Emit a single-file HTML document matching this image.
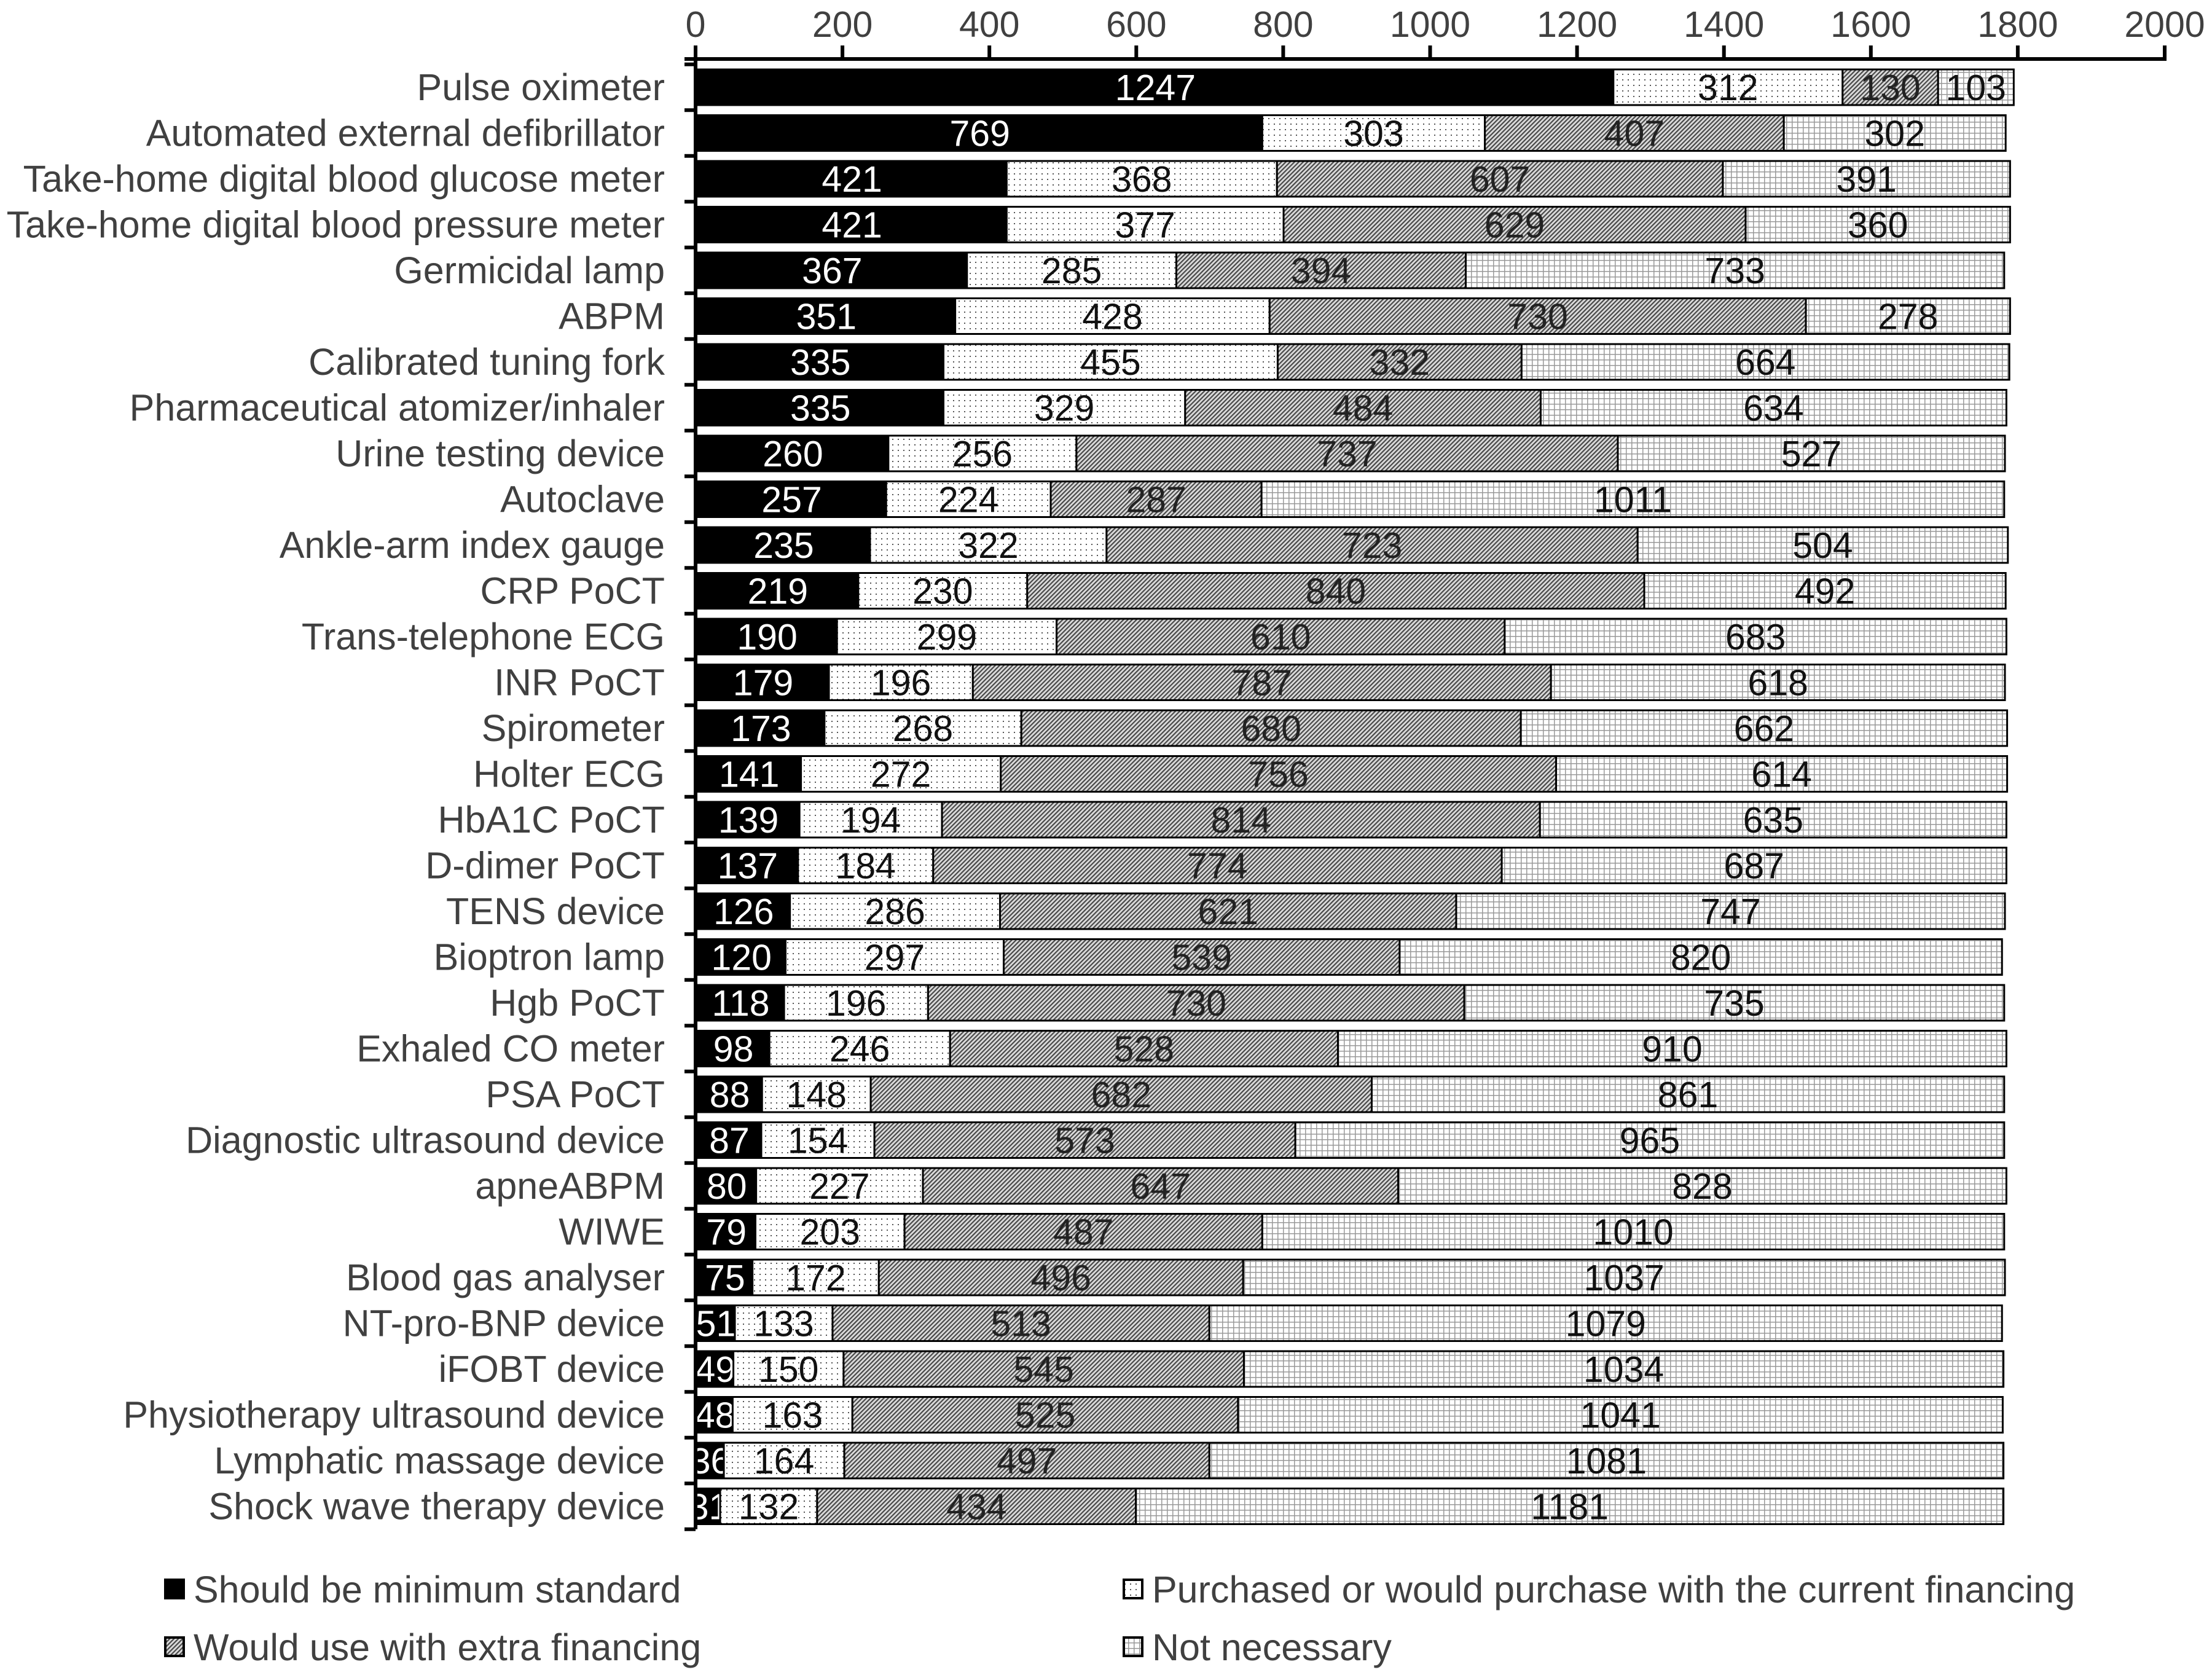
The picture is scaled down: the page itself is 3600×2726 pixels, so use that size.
<!DOCTYPE html>
<html><head><meta charset="utf-8"><style>
html,body{margin:0;padding:0;background:#fff}
svg{display:block}
text{font-family:"Liberation Sans",Arial,sans-serif}
</style></head><body>
<svg id="chart" xmlns="http://www.w3.org/2000/svg" width="3600" height="2726" viewBox="0 0 3600 2726">
<defs>
<pattern id="pDots" patternUnits="userSpaceOnUse" width="9" height="9"><rect width="9" height="9" fill="#fff"/><rect x="3" y="3" width="2" height="2" fill="#555"/></pattern>
<pattern id="pHatch" patternUnits="userSpaceOnUse" width="5" height="5" patternTransform="rotate(45)"><rect width="5" height="5" fill="#dcdcdc"/><rect x="0" y="0" width="2.2" height="5" fill="#484848"/></pattern>
<pattern id="pGrid" patternUnits="userSpaceOnUse" width="9" height="9"><rect width="9" height="9" fill="#fff"/><rect x="0" y="0" width="9" height="1.5" fill="#999"/><rect x="0" y="0" width="1.5" height="9" fill="#999"/></pattern>
</defs>
<g id="plot"></g>
</svg>
<script>
const categories = ["Pulse oximeter","Automated external defibrillator","Take-home digital blood glucose meter","Take-home digital blood pressure meter","Germicidal lamp","ABPM","Calibrated tuning fork","Pharmaceutical atomizer/inhaler","Urine testing device","Autoclave","Ankle-arm index gauge","CRP PoCT","Trans-telephone ECG","INR PoCT","Spirometer","Holter ECG","HbA1C PoCT","D-dimer PoCT","TENS device","Bioptron lamp","Hgb PoCT","Exhaled CO meter","PSA PoCT","Diagnostic ultrasound device","apneABPM","WIWE","Blood gas analyser","NT-pro-BNP device","iFOBT device","Physiotherapy ultrasound device","Lymphatic massage device","Shock wave therapy device"];
const minimumStandard = [1247,769,421,421,367,351,335,335,260,257,235,219,190,179,173,141,139,137,126,120,118,98,88,87,80,79,75,51,49,48,36,31];
const purchased = [312,303,368,377,285,428,455,329,256,224,322,230,299,196,268,272,194,184,286,297,196,246,148,154,227,203,172,133,150,163,164,132];
const extraFinancing = [130,407,607,629,394,730,332,484,737,287,723,840,610,787,680,756,814,774,621,539,730,528,682,573,647,487,496,513,545,525,497,434];
const notNecessary = [103,302,391,360,733,278,664,634,527,1011,504,492,683,618,662,614,635,687,747,820,735,910,861,965,828,1010,1037,1079,1034,1041,1081,1181];
const xTicks = [0,200,400,600,800,1000,1200,1400,1600,1800,2000];
const seriesNames = ["Should be minimum standard","Purchased or would purchase with the current financing","Would use with extra financing","Not necessary"];

const NS="http://www.w3.org/2000/svg";
const g=document.getElementById('plot');
const X0=1132, PXU=1.1955, Y0=142, PITCH=74.5, BH=58, AXY=96;
function xs(v){return X0+v*PXU;}
function yc(i){return Y0+i*PITCH;}
function mk(tag,attrs){const e=document.createElementNS(NS,tag);for(const k in attrs)e.setAttribute(k,attrs[k]);g.appendChild(e);return e;}
const fills=["#000","url(#pDots)","url(#pHatch)","url(#pGrid)"];
const tcol=["#fff","#111","#222","#111"];
const series=[minimumStandard,purchased,extraFinancing,notNecessary];
const segNames=["segment-minimum-standard","segment-purchased","segment-extra-financing","segment-not-necessary"];

categories.forEach((c,i)=>{
  let acc=0;
  const lab=mk('text',{x:1082,y:yc(i)+21,'text-anchor':'end','font-size':61,fill:'#404040'});
  lab.textContent=c;
  
  
  series.forEach((s,k)=>{
    const v=s[i];
    const r=mk('rect',{x:xs(acc)+3,y:yc(i)-BH/2,width:v*PXU,height:BH,fill:fills[k],stroke:'#000','stroke-width':3});
    
    
    const t=mk('text',{x:xs(acc+v/2)+3,y:yc(i)+21,'text-anchor':'middle','font-size':59,fill:tcol[k]});
    t.textContent=v;
    
    
    acc+=v;
  });
});
const ya=mk('line',{x1:X0,y1:AXY,x2:X0,y2:yc(categories.length-1)+PITCH/2,stroke:'#000','stroke-width':6});


for(let i=0;i<=categories.length;i++){
  const yy=Y0-PITCH/2+i*PITCH;
  const tk=mk('line',{x1:X0-18,y1:yy,x2:X0,y2:yy,stroke:'#000','stroke-width':6});
  
  
}
const xa=mk('line',{x1:X0-18,y1:AXY,x2:xs(2000)+3,y2:AXY,stroke:'#000','stroke-width':6});


xTicks.forEach(v=>{
  const tk=mk('line',{x1:xs(v),y1:AXY-22,x2:xs(v),y2:AXY,stroke:'#000','stroke-width':6});
  
  
  const t=mk('text',{x:xs(v),y:60,'text-anchor':'middle','font-size':59,fill:'#404040'});
  t.textContent=v;
  
  
});
const lp=[[269,2587],[1829,2587],[269,2681],[1829,2681]];
[0,1,2,3].forEach((k,j)=>{
  const [lx,ly]=lp[j];
  const b=mk('rect',{x:lx,y:ly-16,width:30,height:30,fill:fills[k],stroke:'#000','stroke-width':4});
  
  
  const t=mk('text',{x:lx+46,y:ly+21,'font-size':61,fill:'#404040'});
  t.textContent=seriesNames[k];
  
  
});
</script>
</body></html>
